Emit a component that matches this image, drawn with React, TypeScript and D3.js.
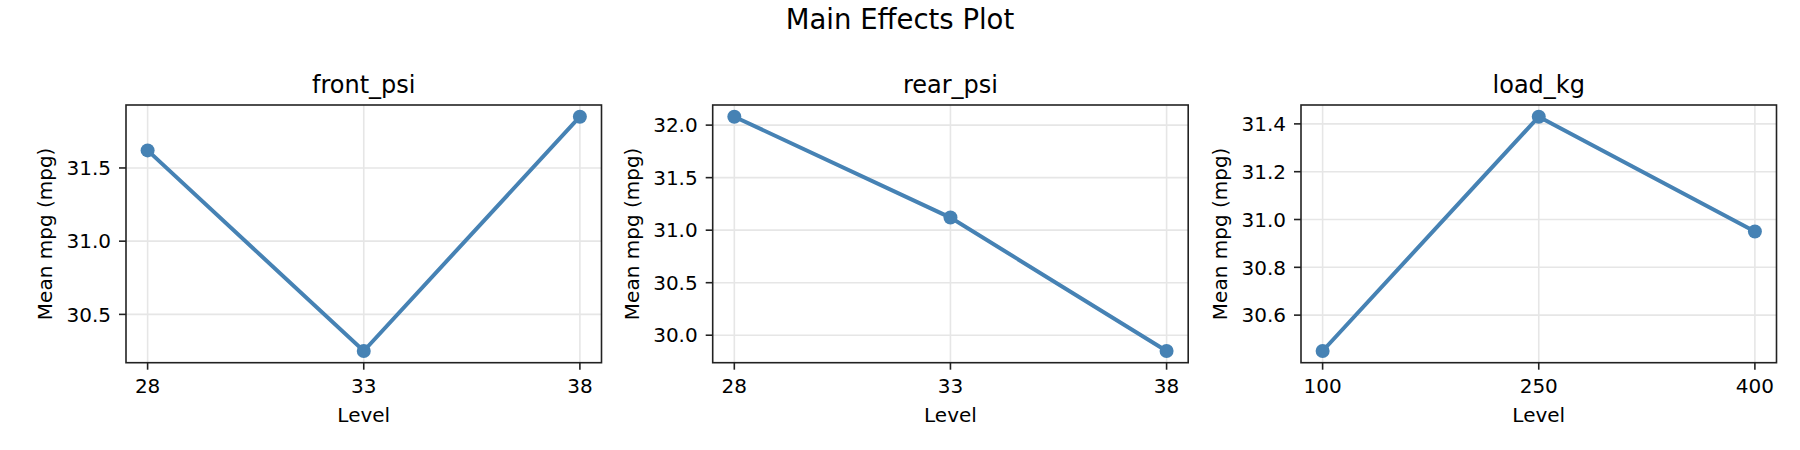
import React from 'react'
import * as d3 from 'd3'

// factor levels and mean responses
const factorNames = ['front_psi', 'rear_psi', 'load_kg']
const frontPsiLevels = [28, 33, 38]
const frontPsiMeans = [31.62, 30.25, 31.85]
const rearPsiLevels = [28, 33, 38]
const rearPsiMeans = [32.08, 31.12, 29.85]
const loadKgLevels = [100, 250, 400]
const loadKgMeans = [30.45, 31.43, 30.95]

const frontPsiYTicks = [30.5, 31.0, 31.5]
const rearPsiYTicks = [30.0, 30.5, 31.0, 31.5, 32.0]
const loadKgYTicks = [30.6, 30.8, 31.0, 31.2, 31.4]

const levelsByFactor = [frontPsiLevels, rearPsiLevels, loadKgLevels]
const meansByFactor = [frontPsiMeans, rearPsiMeans, loadKgMeans]
const yTicksByFactor = [frontPsiYTicks, rearPsiYTicks, loadKgYTicks]

const WIDTH = 1800
const HEIGHT = 450
const FONT = '"DejaVu Sans", sans-serif'
const LINE_COLOR = '#4682b4'
const GRID_COLOR = '#e6e6e6'

const panelLefts = [126, 712.7, 1301]
const panelWidth = 475.5
const panelTop = 105
const panelBottom = 362.7

// pad the extent by 5% on each side, like matplotlib's default margins
const paddedExtent = (values: number[]): [number, number] => {
  const [lo, hi] = d3.extent(values) as [number, number]
  const pad = (hi - lo) * 0.05
  return [lo - pad, hi + pad]
}

interface PanelProps {
  title: string
  levels: number[]
  means: number[]
  yTicks: number[]
  left: number
}

const EffectPanel: React.FC<PanelProps> = (props: PanelProps) => {
  const right = props.left + panelWidth
  const xScale = d3.scaleLinear().domain(paddedExtent(props.levels)).range([props.left, right])
  const yScale = d3.scaleLinear().domain(paddedExtent(props.means)).range([panelBottom, panelTop])
  const points = props.levels.map((lvl, i) => [lvl, props.means[i]] as [number, number])
  const line = d3.line<[number, number]>()
    .x(d => xScale(d[0]))
    .y(d => yScale(d[1]))
  const centerX = (props.left + right) / 2
  const tickDigits = props.yTicks[1] - props.yTicks[0] < 0.5 ? 1 : 1

  return (
    <g>
      {/* grid */}
      {props.levels.map(lvl => (
        <line key={`gx${lvl}`} x1={xScale(lvl)} x2={xScale(lvl)} y1={panelTop} y2={panelBottom}
          stroke={GRID_COLOR} strokeWidth={1.6} />
      ))}
      {props.yTicks.map(t => (
        <line key={`gy${t}`} x1={props.left} x2={right} y1={yScale(t)} y2={yScale(t)}
          stroke={GRID_COLOR} strokeWidth={1.6} />
      ))}

      <path d={line(points) || ''} fill="none" stroke={LINE_COLOR} strokeWidth={4} />
      {points.map((p, i) => (
        <circle key={`pt${i}`} cx={xScale(p[0])} cy={yScale(p[1])} r={7} fill={LINE_COLOR} />
      ))}

      {/* frame */}
      <rect x={props.left} y={panelTop} width={panelWidth} height={panelBottom - panelTop}
        fill="none" stroke="#222" strokeWidth={1.6} />

      {/* x ticks */}
      {props.levels.map(lvl => (
        <g key={`xt${lvl}`}>
          <line x1={xScale(lvl)} x2={xScale(lvl)} y1={panelBottom} y2={panelBottom + 7}
            stroke="#222" strokeWidth={1.6} />
          <text x={xScale(lvl)} y={392.7} textAnchor="middle" fontSize={20} fontFamily={FONT}>
            {lvl}
          </text>
        </g>
      ))}

      {/* y ticks */}
      {props.yTicks.map(t => (
        <g key={`yt${t}`}>
          <line x1={props.left - 7} x2={props.left} y1={yScale(t)} y2={yScale(t)}
            stroke="#222" strokeWidth={1.6} />
          <text x={props.left - 15} y={yScale(t)} dy="0.36em" textAnchor="end" fontSize={20}
            fontFamily={FONT}>
            {t.toFixed(tickDigits)}
          </text>
        </g>
      ))}

      <text x={centerX} y={93} textAnchor="middle" fontSize={24} fontFamily={FONT}>
        {props.title}
      </text>
      <text x={centerX} y={421.7} textAnchor="middle" fontSize={20} fontFamily={FONT}>
        Level
      </text>
      <text transform={`translate(${props.left - 74},${(panelTop + panelBottom) / 2}) rotate(-90)`}
        textAnchor="middle" fontSize={20} fontFamily={FONT}>
        Mean mpg (mpg)
      </text>
    </g>
  )
}

const App: React.FC = () => {
  return (
    <div style={{ position: 'absolute', left: 0, top: 0 }}>
      <svg width={WIDTH} height={HEIGHT} style={{ display: 'block', background: '#fff' }}>
        <text x={WIDTH / 2} y={29.3} textAnchor="middle" fontSize={27.5} fontFamily={FONT}>
          Main Effects Plot
        </text>
        {factorNames.map((name, i) => (
          <EffectPanel
            key={name}
            title={name}
            levels={levelsByFactor[i]}
            means={meansByFactor[i]}
            yTicks={yTicksByFactor[i]}
            left={panelLefts[i]}
          />
        ))}
      </svg>
    </div>
  )
}

export default App
